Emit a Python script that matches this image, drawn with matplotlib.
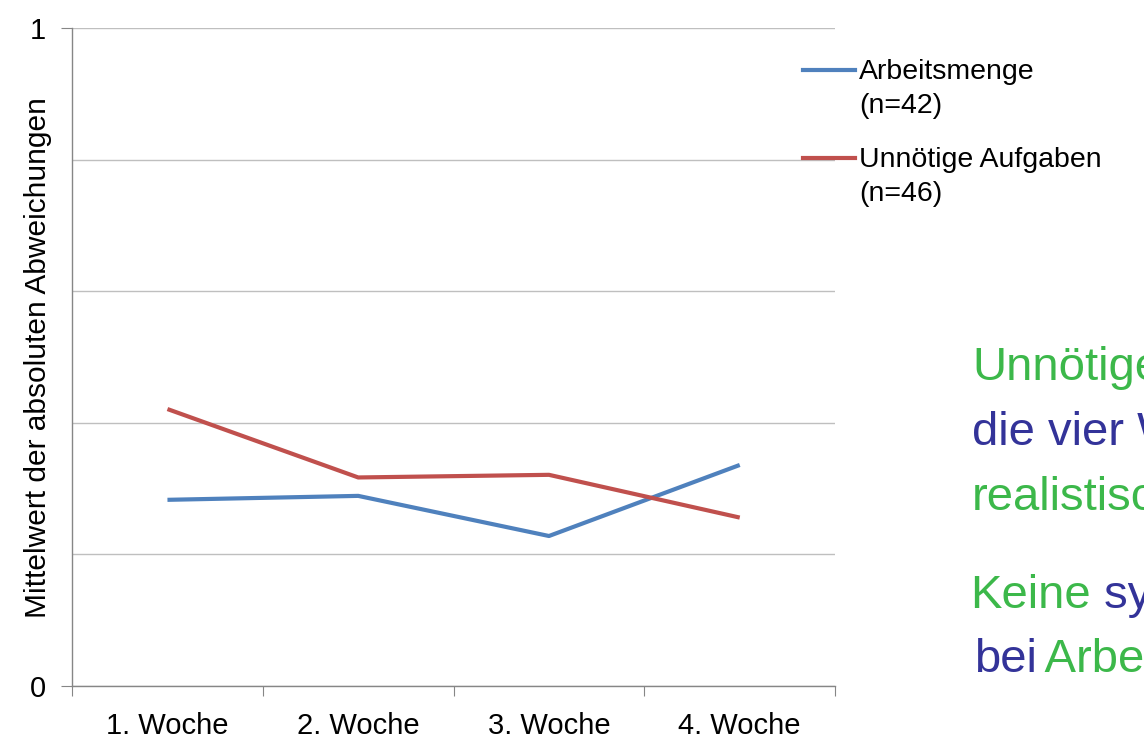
import matplotlib
matplotlib.use("Agg")
import matplotlib.pyplot as plt
from matplotlib.lines import Line2D

plt.rcParams['font.family'] = ['Liberation Sans', 'DejaVu Sans']

weeks = ['1. Woche', '2. Woche', '3. Woche', '4. Woche']
arbeitsmenge = [0.283, 0.289, 0.228, 0.336]
unnoetige = [0.421, 0.317, 0.321, 0.256]
legend_labels = [('Arbeitsmenge', '(n=42)'), ('Unnötige Aufgaben', '(n=46)')]

blue = '#4f81bd'
red = '#c0504d'
green = '#3cb84a'
navy = '#333399'
axis_grey = '#868686'

fig = plt.figure(figsize=(11.44, 7.42), dpi=100)
ax = fig.add_axes([0.063, 0.0755, 0.667, 0.8865])

x = list(range(len(weeks)))
ax.plot(x, arbeitsmenge, color=blue, lw=3, solid_capstyle='butt')
ax.plot(x, unnoetige, color=red, lw=3, solid_capstyle='butt')

ax.set_xlim(-0.5, len(weeks) - 0.5)
ax.set_ylim(0, 1)

# x: tick marks at category borders, labels in the middle
ax.set_xticks([i - 0.5 for i in range(len(weeks) + 1)])
ax.set_xticklabels([])
ax.set_xticks(x, minor=True)
ax.set_xticklabels(weeks, minor=True, fontsize=21)
ax.tick_params(axis='x', which='major', length=7, color=axis_grey, direction='out')
ax.tick_params(axis='x', which='minor', length=0, pad=19)

# y: only 0 and 1 labelled, gridlines every 0.2
ax.set_yticks([0, 1])
ax.set_yticklabels(['0', '1'], fontsize=21)
ax.set_yticks([0.2, 0.4, 0.6, 0.8], minor=True)
ax.tick_params(axis='y', which='major', length=8, color=axis_grey, pad=11)
ax.tick_params(axis='y', which='minor', length=0)
ax.yaxis.grid(True, which='both', color='#bfbfbf', lw=1)
ax.set_axisbelow(True)

for side in ['top', 'right']:
    ax.spines[side].set_visible(False)
for side in ['left', 'bottom']:
    ax.spines[side].set_color(axis_grey)
    ax.spines[side].set_linewidth(1)

ax.set_ylabel('Mittelwert der absoluten Abweichungen', fontsize=21.5)
ax.yaxis.set_label_coords(-0.026, 0.5)

# legend drawn by hand so the handle sits on the first label line
leg_y = [0.906, 0.787]
for (first, second), color, yy in zip(legend_labels, [blue, red], leg_y):
    fig.add_artist(Line2D([0.702, 0.747], [yy, yy], color=color, lw=3,
                          transform=fig.transFigure))
    fig.text(0.751, yy - 0.003, first, fontsize=20.5, va='center')
    fig.text(0.751, yy - 0.049, second, fontsize=20.5, va='center')

# coloured comment text on the right
fs = 34
fig.text(0.8497, 0.4879, 'Unnötige', color=green, fontsize=fs, va='baseline')
fig.text(0.8497, 0.4003, 'die vier W', color=navy, fontsize=fs, va='baseline')
fig.text(0.8497, 0.3127, 'realistisc', color=green, fontsize=fs, va='baseline')

t = fig.text(0.848, 0.1806, 'Keine', color=green, fontsize=fs, va='baseline')
ax.annotate(' sy', xy=(1, 0), xycoords=t, color=navy, fontsize=fs,
            va='bottom', ha='left', annotation_clip=False)
t = fig.text(0.8515, 0.0943, 'bei', color=navy, fontsize=fs, va='baseline')
ax.annotate(' Arbe', xy=(1, 0), xycoords=t, xytext=(-2, 0),
            textcoords='offset points', color=green, fontsize=fs,
            va='bottom', ha='left', annotation_clip=False)

fig.savefig('out.png', dpi=100)
